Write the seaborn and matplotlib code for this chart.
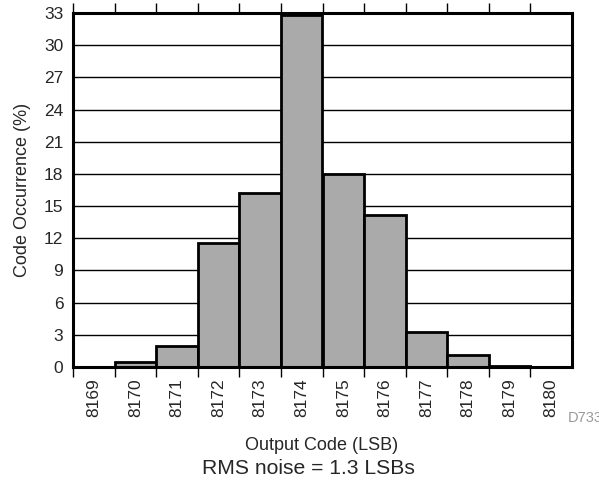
import matplotlib
matplotlib.use("Agg")
import matplotlib.pyplot as plt
import pandas as pd
import seaborn as sns

codes = [8169, 8170, 8171, 8172, 8173, 8174, 8175, 8176, 8177, 8178, 8179, 8180]
occurrence = [0.0, 0.5, 2.0, 11.6, 16.2, 32.8, 18.0, 14.2, 3.3, 1.1, 0.1, 0.0]
y_ticks = list(range(0, 34, 3))

df = pd.DataFrame({"code": [str(c) for c in codes], "pct": occurrence})

sns.set_style("white")
plt.rcParams["font.family"] = ["Liberation Sans", "DejaVu Sans"]

fig = plt.figure(figsize=(5.99, 4.87), dpi=100)
ax = fig.add_axes([73 / 599, 1 - 367 / 487, (572 - 73) / 599, (367 - 13) / 487])

sns.barplot(data=df, x="code", y="pct", color="#aaaaaa", width=1.0,
            edgecolor="black", linewidth=2, saturation=1, ax=ax, zorder=3)

ax.set_xlim(-0.5, len(codes) - 0.5)
ax.set_ylim(0, 33)
ax.set_yticks(y_ticks)
ax.set_yticklabels([str(v) for v in y_ticks], fontsize=12.5)
ax.grid(axis="y", color="black", linewidth=1, zorder=0)
ax.grid(axis="x", visible=False)

# tick marks at the bin edges, code labels centred under each bin
edges = [i - 0.5 for i in range(len(codes))]
ax.set_xticks(edges)
ax.set_xticklabels([])
ax.set_xticks(range(len(codes)), minor=True)
ax.set_xticklabels([str(c) for c in codes], minor=True, rotation=90, fontsize=12.5)

ax.tick_params(axis="x", which="major", direction="out", length=7.5, width=1,
               color="black", top=True, bottom=True)
ax.tick_params(axis="x", which="minor", length=0, pad=8)
ax.tick_params(axis="y", length=0, pad=7)

for s in ax.spines.values():
    s.set_visible(True)
    s.set_color("black")
    s.set_linewidth(2.2)
    s.set_zorder(5)

ax.set_xlabel("")
ax.set_ylabel("")

fig.text(23 / 599, 1 - 190 / 487, "Code Occurrence (%)", rotation=90,
         ha="center", va="center", fontsize=13)
fig.text(322 / 599, 1 - 446 / 487, "Output Code (LSB)", ha="center", va="center", fontsize=13)
fig.text(308 / 599, 1 - 469 / 487, "RMS noise = 1.3 LSBs", ha="center", va="center", fontsize=15.2)
fig.text(568 / 599, 1 - 418 / 487, "D733", ha="left", va="center", fontsize=10.5, color="#999999")

fig.savefig("out.png", dpi=100)
